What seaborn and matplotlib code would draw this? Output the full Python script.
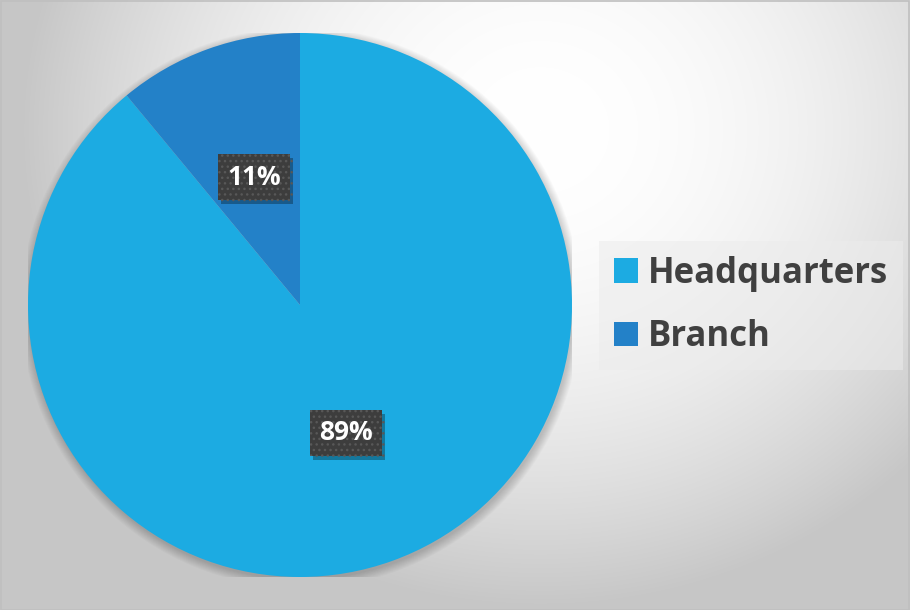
import numpy as np
import matplotlib
matplotlib.use("Agg")
import matplotlib.pyplot as plt
import matplotlib.patheffects as pe
from matplotlib.patches import Rectangle, Circle
import seaborn as sns

categories = ["Headquarters", "Branch"]
values = [89, 11]
pct_labels = ["89%", "11%"]
colors = ["#1CABE2", "#2381C8"]

sns.set_theme(style="white")
plt.rcParams["font.family"] = ["Open Sans", "DejaVu Sans"]

W, H = 910, 610
fig = plt.figure(figsize=(W / 100, H / 100), dpi=100)

# background gradient
bg = fig.add_axes([0, 0, 1, 1], zorder=-2)
yy, xx = np.mgrid[0:H, 0:W]
d2 = ((xx - 540) / 480.0) ** 2 + ((yy - 130) / 440.0) ** 2
v = np.clip(1 - 0.19 * d2, 0.78, 1.0)
bg.imshow(np.dstack([v, v, v]), aspect="auto", extent=[0, W, H, 0])
bg.set_xlim(0, W)
bg.set_ylim(H, 0)
bg.axis("off")

cx, cy, R = 300, 305, 272
ax = fig.add_axes([(cx - R) / W, (H - cy - R) / H, 2 * R / W, 2 * R / H])

wedges, texts, autotexts = ax.pie(
    values, colors=colors, startangle=90, counterclock=False, radius=1.0,
    labels=None, autopct=lambda p: "", pctdistance=0.5,
    wedgeprops=dict(linewidth=0, zorder=1), frame=False,
)
ax.set_xlim(-1, 1)
ax.set_ylim(-1, 1)
ax.axis("off")

# soft shadow
for a in np.linspace(0.0, 1.0, 10):
    r = 1.0 + 0.03 * (1 - a)
    ax.add_patch(Circle((0.004, -0.01), r, color="black", alpha=0.018, lw=0, zorder=0))

for at, lab in zip(autotexts, pct_labels):
    at.set_text(lab)
    at.set_color("white")
    at.set_fontsize(19)
    at.set_fontweight("bold")
    at.set_zorder(5)
    at.set_bbox(dict(boxstyle="square,pad=0.35", facecolor="#3d3d3d",
                     edgecolor="#585858", linewidth=0, hatch="..."))
    at.get_bbox_patch().set_path_effects(
        [pe.SimplePatchShadow(offset=(2, -3), alpha=0.3, shadow_rgbFace="black"), pe.Normal()])

leg = fig.legend(
    wedges, categories, loc="upper left",
    bbox_to_anchor=(599 / W, (H - 241) / H),
    frameon=True, fancybox=False, framealpha=0.55,
    prop=dict(family=["Open Sans", "DejaVu Sans"], weight="bold", size=25),
    handlelength=0.7, handleheight=0.7, handletextpad=0.3,
    labelspacing=0.8, borderpad=0.42, borderaxespad=0,
)
leg.get_frame().set_facecolor("#ececec")
leg.get_frame().set_edgecolor("none")
for t in leg.get_texts():
    t.set_color("#404040")

fig.patches.append(Rectangle((0.5 / W, 0.5 / H), 1 - 1.5 / W, 1 - 1.5 / H,
                             transform=fig.transFigure, fill=False,
                             edgecolor="#bfbfbf", linewidth=1.2))

fig.savefig("out.png", dpi=100)
